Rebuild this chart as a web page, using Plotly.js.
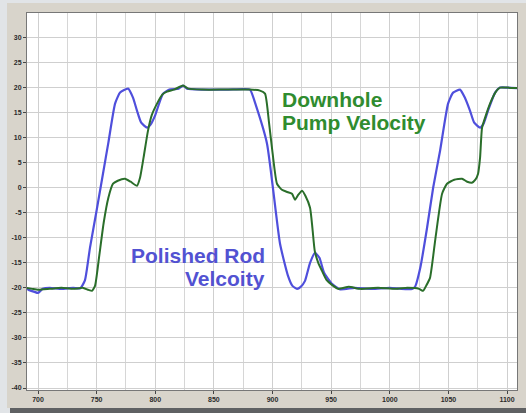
<!DOCTYPE html>
<html>
<head>
<meta charset="utf-8">
<script src="https://cdn.plot.ly/plotly-3.0.1.min.js"></script>
<style>
html,body{margin:0;padding:0;width:526px;height:413px;overflow:hidden;background:#e1e4e7;}
#frame{position:absolute;left:7px;top:3px;width:519px;height:405px;}
#shadow{position:absolute;left:10px;top:408px;width:516px;height:5px;background:#5f6163;}
</style>
</head>
<body>
<div id="frame"></div>
<div id="shadow"></div>
<script>
// Polished rod velocity (blue)
const rodX = [690,692,697,700,704,710,720,730,736,740,744.3,750,755.4,760,765.7,770,776.8,781,784.4,788,793,796,799.8,806.6,812,820,823.7,827,840,860,875,880.8,885.9,895.3,906.4,913.2,917,920.9,924,927.7,932,936.2,940,944,950.7,957.6,970,985,1000,1010,1019,1021.5,1026,1031.8,1037,1042.9,1049.7,1054,1059.9,1064,1068.4,1072,1077,1080,1083.8,1089.8,1094,1100,1109];
const rodY = [-20.2,-20.4,-20.8,-21,-20.2,-20,-20.2,-20,-20.1,-18.5,-12,-4.5,2.8,9,16.8,19,19.8,18,15.4,13,12,12.6,14.4,18.8,19.6,19.8,20.4,19.8,19.6,19.6,19.7,19.6,16.4,8.8,-11.2,-17.6,-19.6,-20.2,-19.8,-18.6,-15,-13,-14,-17,-19.2,-20.3,-20,-20.2,-20,-20.2,-20.2,-19.8,-16,-8,0,7.4,16.8,19,19.6,18,15.4,13,12,12.8,15.4,19,20,20,19.9];
// Downhole pump velocity (green)
const pumpX = [690,695,700,710,720,730,738,743,746,748.6,752,756,760,764,768,774.2,779,784.4,787,790,793.8,797,801.5,806,810,816,823.7,828,840,860,880,889.3,893.6,897,900,903.8,908,912,916.6,919.2,922,925.2,928,932,934,936,939,942.2,946,950.7,956,965,975,990,1005,1015,1025,1028.4,1031,1034.3,1039,1044.6,1048.8,1055,1061.6,1066,1070,1073,1075.3,1077,1078.7,1082,1085.5,1090,1094,1100,1109];
const pumpY = [-20,-20.2,-20.4,-20.2,-20,-20.2,-20,-20.4,-20.6,-19.6,-14,-7,-2,0.8,1.4,1.8,1.2,0.4,2,6,11.4,14.5,16.8,18.6,19.2,19.6,20.4,19.8,19.6,19.6,19.6,19.4,18.8,13,7,0.8,-0.4,-0.8,-1.2,-2.4,-1.4,-0.6,-1.6,-4,-8,-12.6,-15,-16.6,-18.4,-19.4,-20.2,-19.8,-20.2,-20,-20.2,-20,-20.2,-20.6,-19.6,-18,-10,-1.2,0.8,1.6,1.8,1.2,1,1.6,2.8,6,12,14.5,16.8,19,20,20,19.9];
const xTickVals = [700,750,800,850,900,950,1000,1050,1100];
const xTickText = ["700","750","800","850","900","950","1000","1050","1100"];
const yTickVals = [30,25,20,15,10,5,0,-5,-10,-15,-20,-25,-30,-35,-40];
const yTickText = ["30","25","20","15","10","5","0","-5","-10","-15","-20","-25","-30","-35","-40"];

const traces = [
  {x: rodX, y: rodY, mode: 'lines', line: {color: '#4f4fdc', width: 2.2, shape: 'spline', smoothing: 0.5}, hoverinfo: 'skip'},
  {x: pumpX, y: pumpY, mode: 'lines', line: {color: '#2a6e2a', width: 2, shape: 'spline', smoothing: 0.5}, hoverinfo: 'skip'}
];

const tickFont = {family: 'Arial, Liberation Sans, sans-serif', size: 7, color: '#2a2a2a', weight: 'bold'};
const layout = {
  width: 519, height: 405,
  margin: {l: 20, r: 9, t: 10, b: 18},
  paper_bgcolor: '#d8d4cb',
  plot_bgcolor: '#ffffff',
  showlegend: false,
  xaxis: {
    range: [690.6, 1108.5], tickmode: 'array', tickvals: xTickVals, ticktext: xTickText,
    ticks: 'outside', ticklen: 3, tickcolor: '#444', tickfont: tickFont,
    showgrid: true, gridcolor: '#cfcfcf', gridwidth: 1,
    minor: {dtick: 25, tick0: 700, showgrid: true, gridcolor: '#d6d6d6', ticks: ''},
    showline: true, linecolor: '#777', linewidth: 1, mirror: true, zeroline: false,
    fixedrange: true
  },
  yaxis: {
    range: [-40.4, 34.9], tickmode: 'array', tickvals: yTickVals, ticktext: yTickText,
    ticks: 'outside', ticklen: 3, tickcolor: '#444', tickfont: tickFont,
    showgrid: true, gridcolor: '#cfcfcf', gridwidth: 1,
    showline: true, linecolor: '#777', linewidth: 1, mirror: true, zeroline: false,
    fixedrange: true
  },
  annotations: [
    {x: 906.4, y: 17.7, xref: 'x', yref: 'y', text: '<b>Downhole</b>', showarrow: false, xanchor: 'left', yanchor: 'middle', font: {family: 'Arial, Liberation Sans, sans-serif', size: 21, color: '#2f8c2f'}},
    {x: 906.4, y: 13.1, xref: 'x', yref: 'y', text: '<b>Pump Velocity</b>', showarrow: false, xanchor: 'left', yanchor: 'middle', font: {family: 'Arial, Liberation Sans, sans-serif', size: 21, color: '#2f8c2f'}},
    {x: 895.3, y: -13.6, xref: 'x', yref: 'y', text: '<b>Polished Rod</b>', showarrow: false, xanchor: 'right', yanchor: 'middle', font: {family: 'Arial, Liberation Sans, sans-serif', size: 21, color: '#5252d2'}},
    {x: 895.3, y: -18.1, xref: 'x', yref: 'y', text: '<b>Velcoity</b>', showarrow: false, xanchor: 'right', yanchor: 'middle', font: {family: 'Arial, Liberation Sans, sans-serif', size: 21, color: '#5252d2'}}
  ]
};
Plotly.newPlot('frame', traces, layout, {staticPlot: true, displayModeBar: false});
</script>
</body>
</html>
